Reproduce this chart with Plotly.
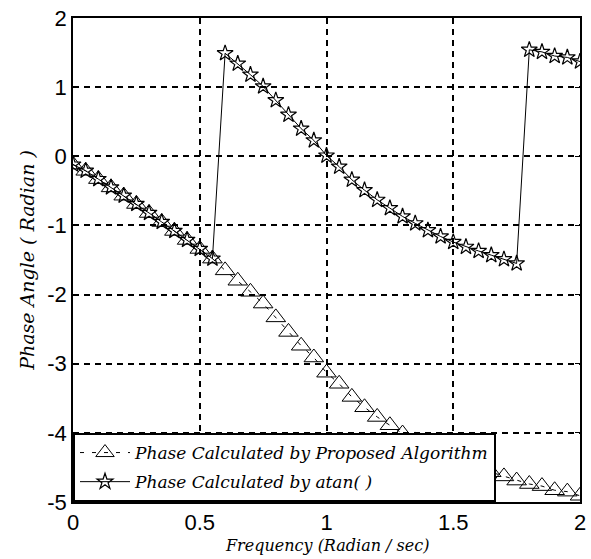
import plotly.graph_objects as go

freq = [0.00, 0.05, 0.10, 0.15, 0.20, 0.25, 0.30, 0.35, 0.40, 0.45,
        0.50, 0.55, 0.60, 0.65, 0.70, 0.75, 0.80, 0.85, 0.90, 0.95,
        1.00, 1.05, 1.10, 1.15, 1.20, 1.25, 1.30, 1.35, 1.40, 1.45,
        1.50, 1.55, 1.60, 1.65, 1.70, 1.75, 1.80, 1.85, 1.90, 1.95, 2.00]

phase_proposed = [-0.12, -0.21, -0.33, -0.45, -0.57, -0.69, -0.82, -0.95, -1.08, -1.21,
                  -1.34, -1.48, -1.65, -1.80, -1.96, -2.13, -2.33, -2.54, -2.74, -2.91,
                  -3.13, -3.29, -3.48, -3.63, -3.77, -3.89, -4.01, -4.11, -4.21, -4.30,
                  -4.38, -4.45, -4.51, -4.57, -4.63, -4.69, -4.74, -4.77, -4.83, -4.85, -4.91]

phase_atan = [-0.12, -0.21, -0.33, -0.45, -0.57, -0.69, -0.82, -0.95, -1.08, -1.21,
              -1.34, -1.48, 1.49, 1.34, 1.18, 1.01, 0.81, 0.60, 0.40, 0.23,
              0.01, -0.15, -0.34, -0.49, -0.63, -0.75, -0.87, -0.97, -1.07, -1.16,
              -1.24, -1.31, -1.37, -1.43, -1.49, -1.55, 1.54, 1.51, 1.45, 1.43, 1.37]

x_ticks = [0, 0.5, 1, 1.5, 2]
y_ticks = [-5, -4, -3, -2, -1, 0, 1, 2]

fig = go.Figure()
fig.add_trace(go.Scatter(
    x=freq, y=phase_proposed, mode="lines+markers",
    name="<i>Phase Calculated by Proposed Algorithm</i>",
    line=dict(color="black", width=1, dash="4px,8px"),
    marker=dict(symbol="triangle-up-open", size=17, color="black",
                line=dict(color="black", width=1)),
    legendgroup="a",
))
fig.add_trace(go.Scatter(
    x=freq, y=phase_atan, mode="lines+markers",
    name="<i>Phase Calculated by atan( )</i>",
    line=dict(color="black", width=1),
    marker=dict(symbol="star-open", size=12, color="black",
                line=dict(color="black", width=1.2)),
    legendgroup="b",
))

axis_common = dict(
    showline=True, linecolor="black", linewidth=1.5, mirror="ticks",
    ticks="inside", ticklen=5, tickcolor="black",
    showgrid=True, gridcolor="black", gridwidth=1.6, griddash="6px,5px",
    zeroline=False,
    tickfont=dict(family="Liberation Sans", size=22, color="black"),
)

fig.update_layout(
    width=591, height=559,
    margin=dict(l=73, r=5, t=18, b=57),
    paper_bgcolor="white", plot_bgcolor="white",
    xaxis=dict(range=[0, 2], tickvals=x_ticks, ticktext=[str(t) for t in x_ticks],
               **axis_common),
    yaxis=dict(range=[-5, 2], tickvals=y_ticks, ticktext=[str(t) for t in y_ticks],
               title=dict(text="<i>Phase Angle ( Radian )</i>",
                          font=dict(family="DejaVu Serif", size=19, color="black"),
                          standoff=8),
               **axis_common),
    legend=dict(x=0, y=0, xanchor="left", yanchor="bottom",
                bgcolor="white", bordercolor="black", borderwidth=2,
                font=dict(family="DejaVu Serif", size=17, color="black"),
                itemwidth=50, tracegroupgap=4, traceorder="grouped"),
    showlegend=True,
    annotations=[dict(text="<i>Frequency (Radian / sec)</i>", xref="paper", yref="paper",
                      x=0.5, y=0, xanchor="center", yanchor="middle", yshift=-43,
                      showarrow=False,
                      font=dict(family="DejaVu Serif", size=16, color="black"))],
)

fig.write_html("out.html")
